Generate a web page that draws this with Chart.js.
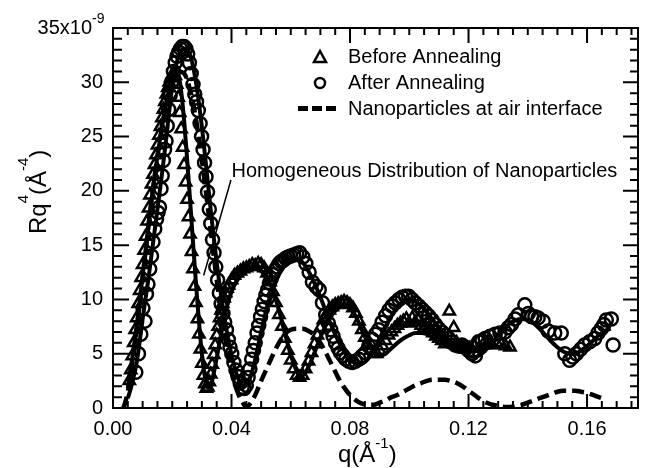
<!DOCTYPE html>
<html lang="en">
<head>
  <meta charset="UTF-8">
  <title>Rq4 vs q - annealing</title>
  <script src="https://cdn.jsdelivr.net/npm/chart.js@4"></script>
  <style>
    html, body { margin: 0; padding: 0; background: #fff; }
    #chart { display: block; }
  </style>
</head>
<body>
  <canvas id="chart" width="647" height="468"></canvas>

  <script>
  // [q (1/A), R*q^4 (x1e-9 A^-4)]
  const beforeAnnealing = [
    [0.0055,2.5],[0.0060,3.5],[0.0065,4.8],[0.0070,6.0],[0.0075,7.2],[0.0080,8.3],[0.0085,9.6],[0.0090,10.8],
    [0.0095,12.0],[0.0100,13.2],[0.0105,14.5],[0.0110,15.8],[0.0115,17.2],[0.0120,18.4],[0.0125,19.6],[0.0130,20.6],
    [0.0135,21.5],[0.0140,22.4],[0.0145,23.3],[0.0150,24.2],[0.0155,25.1],[0.0160,25.9],[0.0165,26.7],[0.0170,27.5],
    [0.0175,28.2],[0.0180,28.9],[0.0185,29.5],[0.0190,30.0],[0.0195,30.4],[0.0200,30.7],[0.0205,30.8],[0.0210,30.6],
    [0.0215,29.8],[0.0220,28.6],[0.0225,27.2],[0.0230,25.7],[0.0235,24.0],[0.0240,22.4],[0.0245,20.8],[0.0250,19.2],
    [0.0255,17.6],[0.0260,16.0],[0.0265,14.4],[0.0270,12.8],[0.0275,11.2],[0.0280,9.7],[0.0285,8.2],[0.0290,6.8],
    [0.0295,5.4],[0.0300,4.1],[0.0305,3.0],[0.0310,2.2],[0.0315,1.8],[0.0320,1.9],[0.0325,2.4],[0.0330,3.1],
    [0.0335,4.0],[0.0340,4.9],[0.0345,5.8],[0.0350,6.7],[0.0355,7.5],[0.0360,8.3],[0.0365,9.0],[0.0370,9.6],
    [0.0375,10.1],[0.0380,10.6],[0.0385,11.0],[0.0390,11.3],[0.0400,11.8],[0.0410,12.2],[0.0420,12.4],[0.0430,12.6],
    [0.0440,12.8],[0.0450,12.9],[0.0460,13.0],[0.0470,13.2],[0.0480,13.1],[0.0490,13.3],[0.0500,13.2],[0.0510,12.9],
    [0.0520,12.4],[0.0530,11.6],[0.0540,10.7],[0.0550,9.7],[0.0560,8.6],[0.0570,7.5],[0.0580,6.4],[0.0590,5.3],
    [0.0600,4.4],[0.0610,3.6],[0.0620,3.0],[0.0630,2.8],[0.0640,3.0],[0.0650,3.6],[0.0660,4.3],[0.0670,5.1],
    [0.0680,5.9],[0.0690,6.7],[0.0700,7.4],[0.0710,8.1],[0.0720,8.6],[0.0730,9.0],[0.0740,9.3],[0.0750,9.5],
    [0.0760,9.6],[0.0770,9.7],[0.0780,9.8],[0.0790,9.7],[0.0800,9.5],[0.0810,9.2],[0.0820,8.7],[0.0830,8.0],
    [0.0840,7.2],[0.0850,6.5],[0.0860,5.8],[0.0870,5.3],[0.0880,5.0],[0.0890,5.0],[0.0900,5.3],[0.0910,5.7],
    [0.0920,6.2],[0.0930,6.7],[0.0940,7.0],[0.0950,7.3],[0.0960,7.6],[0.0970,7.8],[0.0980,8.0],[0.0990,8.2],
    [0.1000,7.8],[0.1010,8.3],[0.1020,7.9],[0.1030,8.1],[0.1040,7.6],[0.1050,7.4],[0.1060,7.8],[0.1070,7.2],
    [0.1080,6.9],[0.1090,6.6],[0.1100,6.4],[0.1110,6.2],[0.1120,5.9],[0.1135,8.9],[0.1150,7.4],[0.1160,6.0],
    [0.1175,5.6],[0.1190,5.4],[0.1205,5.5],[0.1220,5.7],[0.1235,5.5],[0.1250,5.9],[0.1265,6.1],[0.1280,5.8],
    [0.1295,6.0],[0.1310,5.9],[0.1325,5.7],[0.1340,5.6]
  ];

  const afterAnnealing = [
    [0.0077,3.3],[0.0086,5.0],[0.0094,6.8],[0.0101,9.2],[0.0108,8.0],[0.0113,10.5],[0.0118,11.4],[0.0124,12.8],
    [0.0130,14.0],[0.0135,15.3],[0.0141,16.5],[0.0147,17.4],[0.0152,18.0],[0.0157,18.5],[0.0162,20.2],[0.0166,21.4],
    [0.0170,22.8],[0.0174,23.8],[0.0179,24.6],[0.0183,26.0],[0.0188,27.5],[0.0193,28.8],[0.0198,30.0],[0.0204,31.0],
    [0.0210,31.8],[0.0216,32.4],[0.0222,32.8],[0.0228,33.1],[0.0234,33.3],[0.0240,33.3],[0.0246,33.1],[0.0252,32.6],
    [0.0258,31.8],[0.0264,30.8],[0.0270,29.8],[0.0276,28.9],[0.0282,28.2],[0.0288,27.4],[0.0294,26.2],[0.0299,25.0],
    [0.0304,23.8],[0.0309,22.6],[0.0314,21.3],[0.0319,19.9],[0.0325,18.3],[0.0330,17.0],[0.0336,15.5],[0.0341,14.3],
    [0.0347,13.0],[0.0353,11.8],[0.0359,10.6],[0.0365,9.6],[0.0371,8.7],[0.0377,7.9],[0.0383,7.2],[0.0389,6.3],
    [0.0395,5.6],[0.0401,5.0],[0.0408,4.2],[0.0415,3.5],[0.0422,2.9],[0.0429,2.3],[0.0436,1.9],[0.0443,1.8],
    [0.0450,2.1],[0.0456,2.8],[0.0462,3.6],[0.0468,4.5],[0.0474,5.3],[0.0480,6.0],[0.0486,6.9],[0.0492,7.6],
    [0.0498,8.4],[0.0504,9.1],[0.0510,9.8],[0.0516,10.4],[0.0522,10.9],[0.0528,11.5],[0.0534,11.9],[0.0540,12.3],
    [0.0547,12.7],[0.0554,13.0],[0.0561,13.3],[0.0568,13.5],[0.0575,13.6],[0.0583,13.8],[0.0591,13.9],[0.0600,14.0],
    [0.0610,14.1],[0.0620,14.2],[0.0630,14.3],[0.0641,13.9],[0.0651,13.3],[0.0662,12.5],[0.0673,11.6],[0.0685,11.2],
    [0.0696,10.9],[0.0707,9.7],[0.0718,8.6],[0.0727,7.8],[0.0735,7.2],[0.0743,6.6],[0.0751,6.0],[0.0760,5.5],
    [0.0768,5.1],[0.0777,4.8],[0.0785,4.5],[0.0796,4.3],[0.0807,4.2],[0.0818,4.3],[0.0830,4.5],[0.0841,4.8],
    [0.0852,5.1],[0.0863,5.7],[0.0875,6.3],[0.0886,6.8],[0.0897,7.2],[0.0908,7.9],[0.0920,8.5],[0.0931,9.0],
    [0.0942,9.4],[0.0953,9.7],[0.0965,10.0],[0.0976,10.2],[0.0987,10.3],[0.0998,10.3],[0.1009,10.0],[0.1020,9.7],
    [0.1032,9.4],[0.1043,9.1],[0.1054,8.8],[0.1065,8.5],[0.1077,8.1],[0.1088,7.7],[0.1099,7.3],[0.1110,7.0],
    [0.1122,6.7],[0.1133,6.4],[0.1144,6.1],[0.1155,5.8],[0.1166,5.7],[0.1178,5.8],[0.1189,5.6],[0.1200,5.3],
    [0.1212,5.0],[0.1223,4.8],[0.1234,6.1],[0.1245,6.2],[0.1256,6.4],[0.1273,6.6],[0.1290,6.8],[0.1306,6.9],
    [0.1323,7.0],[0.1334,7.4],[0.1345,7.7],[0.1357,8.2],[0.1368,8.6],[0.1390,9.5],[0.1402,8.7],[0.1413,8.4],
    [0.1424,8.4],[0.1435,8.3],[0.1452,8.0],[0.1469,7.1],[0.1491,6.9],[0.1513,6.9],[0.1525,5.0],[0.1541,4.4],
    [0.1552,4.7],[0.1564,5.0],[0.1578,5.4],[0.1592,5.8],[0.1609,6.1],[0.1626,6.4],[0.1637,6.9],[0.1648,7.3],
    [0.1657,7.7],[0.1665,8.1],[0.1682,8.2],[0.1688,5.8]
  ];

  // fitted model curves (solid lines)
  const fitBefore = [
    [0.005,1.8],[0.006,3.6],[0.007,5.6],[0.008,7.6],[0.009,9.8],[0.010,12.2],[0.011,14.6],[0.012,17.0],
    [0.013,19.2],[0.014,21.3],[0.015,23.2],[0.016,25.0],[0.017,26.6],[0.018,28.1],[0.019,29.4],[0.020,30.5],
    [0.021,31.1],[0.022,30.8],[0.023,29.2],[0.024,26.5],[0.025,23.0],[0.026,19.2],[0.027,15.3],[0.028,11.5],
    [0.029,8.0],[0.030,5.0],[0.031,2.9],[0.032,1.9],[0.033,2.1],[0.034,3.2],[0.035,4.6],[0.036,6.1],
    [0.038,8.8],[0.040,10.7],[0.042,11.8],[0.044,12.4],[0.046,12.7],[0.048,12.8],[0.050,12.6],[0.052,12.0],
    [0.054,10.8],[0.056,9.0],[0.058,6.9],[0.060,4.9],[0.062,3.4],[0.063,3.0],[0.064,3.0],[0.066,3.8],
    [0.068,5.1],[0.070,6.5],[0.072,7.7],[0.074,8.6],[0.076,9.2],[0.078,9.4],[0.080,9.2],[0.082,8.4],
    [0.084,7.2],[0.086,6.0],[0.088,5.1],[0.090,4.8],[0.092,5.0],[0.094,5.5],[0.096,6.0],[0.098,6.4],
    [0.100,6.7],[0.102,6.9],[0.104,6.9],[0.106,6.8],[0.108,6.5],[0.110,6.1],[0.112,5.8],[0.114,5.5],
    [0.116,5.3],[0.118,5.2],[0.120,5.2],[0.122,5.3],[0.124,5.4],[0.126,5.5],[0.128,5.6],[0.130,5.6],
    [0.132,5.6],[0.134,5.6]
  ];

  const fitAfter = [
    [0.005,0.9],[0.006,1.8],[0.007,2.9],[0.008,4.2],[0.009,6.1],[0.010,8.2],[0.011,10.1],[0.012,12.0],
    [0.013,14.1],[0.014,16.2],[0.015,18.3],[0.016,20.4],[0.017,22.6],[0.018,24.9],[0.019,27.4],[0.020,29.6],
    [0.021,31.2],[0.022,32.3],[0.023,32.9],[0.024,33.1],[0.025,33.0],[0.026,32.5],[0.027,31.5],[0.028,30.0],
    [0.029,28.1],[0.030,25.9],[0.031,23.4],[0.032,20.8],[0.033,18.2],[0.034,15.7],[0.035,13.4],[0.036,11.3],
    [0.037,9.4],[0.038,7.7],[0.039,6.2],[0.040,4.9],[0.041,3.8],[0.042,2.9],[0.043,2.3],[0.044,2.0],
    [0.045,2.1],[0.046,2.6],[0.047,3.4],[0.048,4.5],[0.050,7.0],[0.052,9.3],[0.054,11.1],[0.056,12.4],
    [0.058,13.2],[0.060,13.6],[0.062,13.7],[0.064,13.4],[0.066,12.6],[0.068,11.5],[0.070,10.2],[0.072,8.8],
    [0.074,7.4],[0.076,6.2],[0.078,5.2],[0.080,4.5],[0.082,4.1],[0.084,4.1],[0.086,4.5],[0.088,5.3],
    [0.090,6.4],[0.092,7.5],[0.094,8.5],[0.096,9.3],[0.098,9.8],[0.100,10.0],[0.102,9.8],[0.104,9.4],
    [0.106,8.8],[0.108,8.1],[0.110,7.4],[0.112,6.7],[0.114,6.1],[0.116,5.6],[0.118,5.1],[0.120,4.8],
    [0.122,4.7],[0.124,4.9],[0.126,5.4],[0.128,6.0],[0.130,6.7],[0.132,7.3],[0.134,7.8],[0.136,8.1],
    [0.138,8.2],[0.140,8.1],[0.142,7.8],[0.144,7.3],[0.146,6.7],[0.148,6.1],[0.150,5.6],[0.152,5.2],
    [0.154,5.0],[0.156,5.0],[0.158,5.3],[0.160,5.7],[0.162,6.2],[0.164,6.7],[0.166,7.1],[0.168,7.3]
  ];

  const airInterface = [
    [0.0035,0.0],[0.004,0.4],[0.005,1.5],[0.006,3.2],[0.007,5.0],[0.008,7.2],[0.010,12.0],[0.012,16.8],
    [0.014,21.2],[0.016,25.0],[0.018,28.0],[0.020,30.0],[0.022,31.0],[0.024,30.8],[0.026,29.3],[0.028,26.6],
    [0.030,22.8],[0.032,18.5],[0.034,14.0],[0.036,9.8],[0.038,6.2],[0.040,3.4],[0.042,1.5],[0.044,0.4],
    [0.045,0.1],[0.046,0.3],[0.048,1.2],[0.050,2.5],[0.052,3.7],[0.054,4.9],[0.056,6.0],[0.058,6.8],
    [0.060,7.2],[0.062,7.3],[0.064,7.3],[0.066,7.1],[0.068,6.7],[0.070,6.0],[0.072,5.0],[0.074,3.9],
    [0.076,2.8],[0.078,1.9],[0.080,1.2],[0.082,0.7],[0.084,0.4],[0.086,0.3],[0.088,0.3],[0.090,0.5],
    [0.092,0.7],[0.094,1.0],[0.096,1.2],[0.098,1.5],[0.100,1.8],[0.102,2.1],[0.104,2.3],[0.106,2.5],
    [0.108,2.6],[0.110,2.6],[0.112,2.6],[0.114,2.5],[0.116,2.3],[0.118,2.0],[0.120,1.6],[0.122,1.2],
    [0.124,0.8],[0.126,0.5],[0.128,0.3],[0.130,0.2],[0.132,0.1],[0.134,0.1],[0.136,0.2],[0.138,0.3],
    [0.140,0.5],[0.142,0.7],[0.144,0.9],[0.146,1.1],[0.148,1.3],[0.150,1.5],[0.152,1.6],[0.154,1.6],
    [0.156,1.6],[0.158,1.5],[0.160,1.4],[0.162,1.2],[0.164,1.0],[0.166,0.8]
  ];

  const xTicks = [0, 0.04, 0.08, 0.12, 0.16];
  const xTickLabels = ['0.00', '0.04', '0.08', '0.12', '0.16'];
  const yTicks = [0, 5, 10, 15, 20, 25, 30];
  const yTopLabel = ['35x10', '-9'];
  const xTitle = [['q(Å', false], ['-1', true], [')', false]];
  const yTitle = [['Rq', false], ['4', true], ['(Å', false], ['-4', true], [')', false]];
  const note = {
    text: 'Homogeneous Distribution of Nanoparticles',
    at: [0.0400, 21.3],
    from: [0.0398, 21.0],
    to: [0.0306, 12.2]
  };

  const FONT = '"Liberation Sans", Arial, sans-serif';
  Chart.defaults.font.family = FONT;
  Chart.defaults.color = '#000';

  const toXY = arr => arr.map(([x, y]) => ({ x, y }));

  // draw text runs with superscripts, left to right from (x, y)
  function drawRuns(ctx, runs, x, y, size, supSize, rise) {
    let cx = x;
    runs.forEach(([t, sup]) => {
      ctx.font = `${sup ? supSize : size}px ${FONT}`;
      ctx.fillText(t, cx, sup ? y - rise : y);
      cx += ctx.measureText(t).width;
    });
  }

  const decorations = {
    id: 'decorations',
    afterDraw(chart) {
      const { ctx, chartArea: a, scales: { x, y } } = chart;
      ctx.save();
      ctx.strokeStyle = '#000';
      ctx.fillStyle = '#000';

      // frame + inward ticks on all four sides
      ctx.lineWidth = 2;
      ctx.strokeRect(a.left, a.top, a.right - a.left, a.bottom - a.top);
      ctx.beginPath();
      for (let i = 0; i <= 35; i++) {
        const px = x.getPixelForValue(i * 0.005);
        const major = i % 8 === 0;
        ctx.moveTo(px, a.bottom); ctx.lineTo(px, a.bottom - (major ? 14 : 7));
        ctx.moveTo(px, a.top); ctx.lineTo(px, a.top + (major ? 15 : 7));
      }
      for (let i = 0; i <= 35; i++) {
        const py = y.getPixelForValue(i);
        const major = i % 5 === 0;
        ctx.moveTo(a.left, py); ctx.lineTo(a.left + (major ? 16 : 9), py);
        ctx.moveTo(a.right, py); ctx.lineTo(a.right - (major ? 15 : 8), py);
      }
      ctx.stroke();

      // top y label with exponent
      ctx.textBaseline = 'alphabetic';
      ctx.textAlign = 'left';
      ctx.font = `20px ${FONT}`;
      const topY = y.getPixelForValue(35) + 6;
      const w = ctx.measureText(yTopLabel[0]).width;
      drawRuns(ctx, [[yTopLabel[0], false], [yTopLabel[1], true]], 92 - w, topY, 20, 14, 11);

      // axis titles
      drawRuns(ctx, xTitle, 338, 462, 24, 15, 14);
      ctx.save();
      ctx.translate(46, 234);
      ctx.rotate(-Math.PI / 2);
      drawRuns(ctx, yTitle, 0, 0, 24, 15, 18);
      ctx.restore();

      // annotation
      ctx.font = `20px ${FONT}`;
      ctx.fillText(note.text, x.getPixelForValue(note.at[0]), y.getPixelForValue(note.at[1]));
      ctx.lineWidth = 1.5;
      ctx.beginPath();
      ctx.moveTo(x.getPixelForValue(note.from[0]), y.getPixelForValue(note.from[1]));
      ctx.lineTo(x.getPixelForValue(note.to[0]), y.getPixelForValue(note.to[1]));
      ctx.stroke();

      // legend
      const ds = chart.data.datasets;
      const lx = 320, tx = 348;
      ctx.font = `20px ${FONT}`;
      ctx.lineWidth = 2.5;
      ctx.beginPath();
      ctx.moveTo(lx, 51); ctx.lineTo(lx + 6, 62); ctx.lineTo(lx - 6, 62); ctx.closePath();
      ctx.stroke();
      ctx.fillText(ds[4].label, tx, 63);
      ctx.beginPath();
      ctx.arc(lx, 83, 5, 0, Math.PI * 2);
      ctx.stroke();
      ctx.fillText(ds[3].label, tx, 89);
      ctx.lineWidth = 5;
      ctx.setLineDash([10, 4]);
      ctx.beginPath();
      ctx.moveTo(298, 108.5); ctx.lineTo(338, 108.5);
      ctx.stroke();
      ctx.setLineDash([]);
      ctx.fillText(ds[2].label, tx, 115);
      ctx.restore();
    }
  };

  const ctx = document.getElementById('chart').getContext('2d');
  const chart = new Chart(ctx, {
    type: 'scatter',
    data: {
      datasets: [
        {
          label: 'Fit (after)',
          data: toXY(fitAfter),
          showLine: true, borderColor: '#000', borderWidth: 4,
          pointRadius: 0, cubicInterpolationMode: 'monotone', order: 0
        },
        {
          label: 'Fit (before)',
          data: toXY(fitBefore),
          showLine: true, borderColor: '#000', borderWidth: 4,
          pointRadius: 0, cubicInterpolationMode: 'monotone', order: 1
        },
        {
          label: 'Nanoparticles at air interface',
          data: toXY(airInterface),
          showLine: true, borderColor: '#000', borderWidth: 4.5, borderDash: [12, 6],
          pointRadius: 0, cubicInterpolationMode: 'monotone', order: 2
        },
        {
          label: 'After Annealing',
          data: toXY(afterAnnealing),
          pointStyle: 'circle', pointRadius: 6.5, pointBorderWidth: 2.5,
          borderColor: '#000', backgroundColor: 'rgba(0,0,0,0)', order: 3
        },
        {
          label: 'Before Annealing',
          data: toXY(beforeAnnealing),
          pointStyle: 'triangle', pointRadius: 6.5, pointBorderWidth: 2.5,
          borderColor: '#000', backgroundColor: 'rgba(0,0,0,0)', order: 4
        }
      ]
    },
    options: {
      responsive: false,
      animation: false,
      devicePixelRatio: 1,
      layout: { padding: { top: 28, right: 7, left: 0, bottom: 0 } },
      plugins: { legend: { display: false }, tooltip: { enabled: false } },
      scales: {
        x: {
          type: 'linear', min: 0, max: 0.1772,
          grid: { display: false, drawTicks: false },
          border: { display: false },
          afterBuildTicks: s => { s.ticks = xTicks.map(v => ({ value: v })); },
          afterFit: s => { s.height = 60; },
          ticks: {
            font: { size: 20 }, color: '#000', padding: 9, maxRotation: 0, autoSkip: false,
            callback: (v, i) => xTickLabels[i]
          }
        },
        y: {
          type: 'linear', min: 0, max: 35,
          grid: { display: false, drawTicks: false },
          border: { display: false },
          afterBuildTicks: s => { s.ticks = yTicks.map(v => ({ value: v })); },
          afterFit: s => { s.width = 113; },
          ticks: { font: { size: 20 }, color: '#000', padding: 10, autoSkip: false }
        }
      }
    },
    plugins: [decorations]
  });
  </script>
</body>
</html>
